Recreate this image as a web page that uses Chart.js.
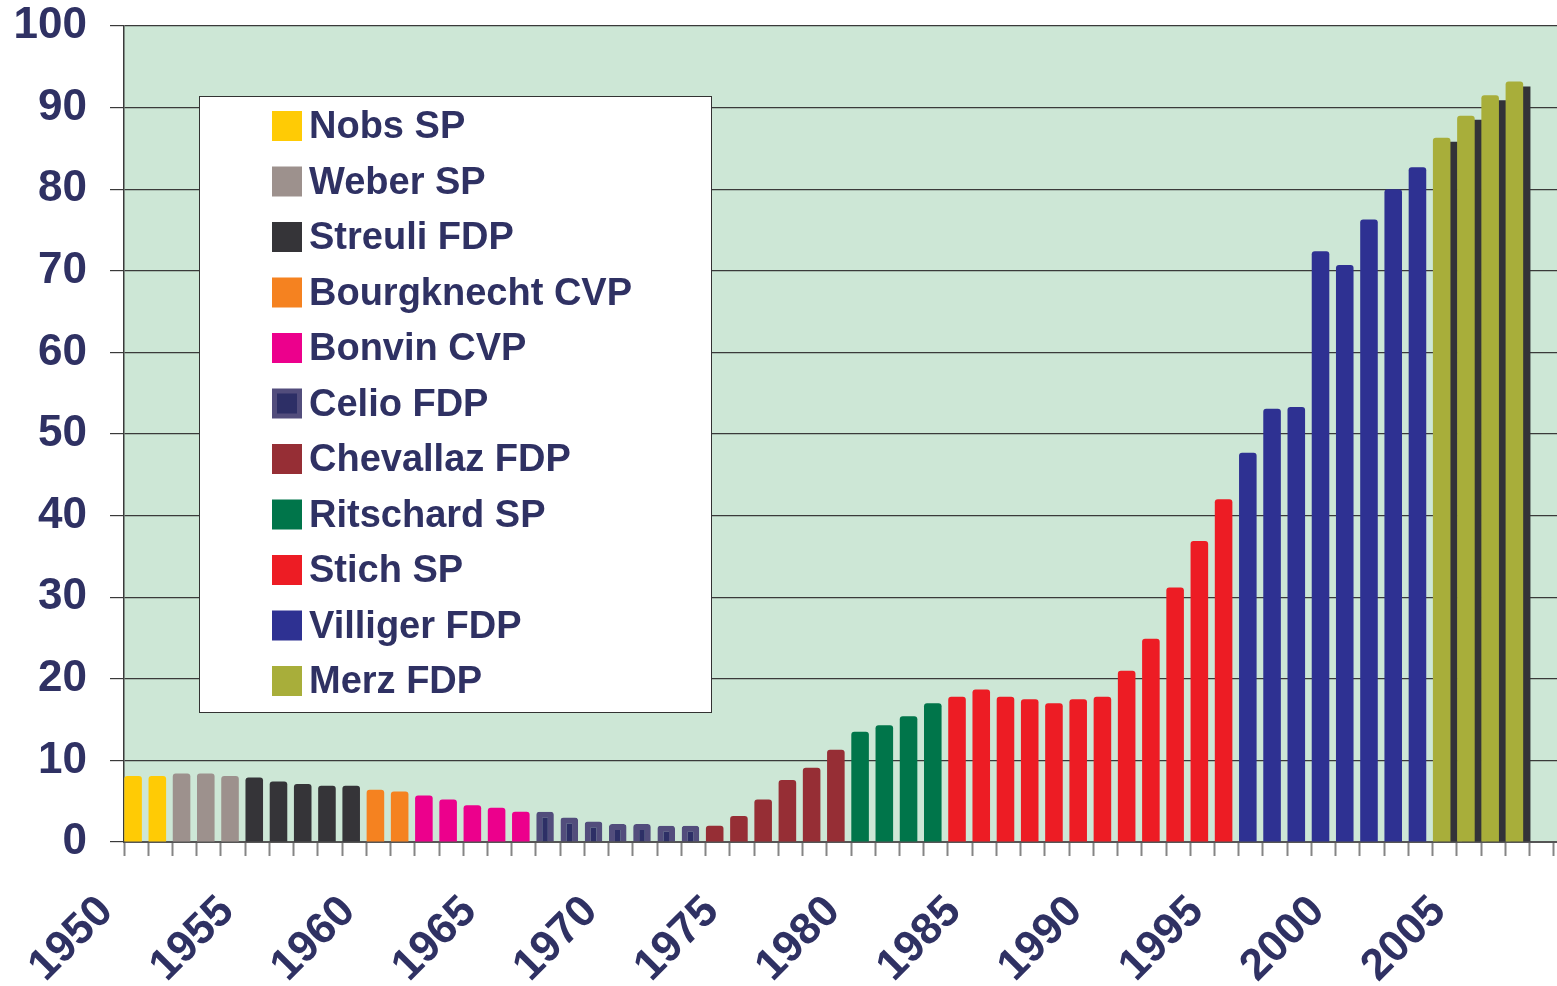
<!DOCTYPE html>
<html>
<head>
<meta charset="utf-8">
<script src="https://cdn.jsdelivr.net/npm/chart.js@4.4.1/dist/chart.umd.min.js"></script>
<style>
  html, body { margin: 0; padding: 0; background: #ffffff; overflow: hidden; }
  #wrap { position: relative; width: 1578px; height: 986px; }
</style>
</head>
<body>
<div id="wrap"><canvas id="debtChart"></canvas></div>
<script>
// categories
var years = ['1950', '1951', '1952', '1953', '1954', '1955', '1956', '1957', '1958', '1959',
             '1960', '1961', '1962', '1963', '1964', '1965', '1966', '1967', '1968', '1969',
             '1970', '1971', '1972', '1973', '1974', '1975', '1976', '1977', '1978', '1979',
             '1980', '1981', '1982', '1983', '1984', '1985', '1986', '1987', '1988', '1989',
             '1990', '1991', '1992', '1993', '1994', '1995', '1996', '1997', '1998', '1999',
             '2000', '2001', '2002', '2003', '2004', '2005', '2006', '2007', '2008', '2009'];

// one bar per year, 1950 - 2007
var debt = [8.1, 8.1, 8.4, 8.4, 8.1, 7.9, 7.4, 7.1, 6.9, 6.9,
            6.4, 6.2, 5.7, 5.2, 4.5, 4.2, 3.7, 3.7, 3.0, 2.5,
            2.2, 2.2, 2.0, 2.0, 2.0, 3.2, 5.2, 7.6, 9.1, 11.3,
            13.5, 14.3, 15.4, 17.0, 17.8, 18.7, 17.8, 17.5, 17.0, 17.5,
            17.8, 21.0, 24.9, 31.2, 36.9, 42.0, 47.7, 53.1, 53.3, 72.4,
            70.7, 76.3, 80.0, 82.7, 86.3, 89.0, 91.5, 93.2];

// who held the office in which years
var ministers = ['Nobs SP', 'Weber SP', 'Streuli FDP', 'Bourgknecht CVP', 'Bonvin CVP', 'Celio FDP',
                 'Chevallaz FDP', 'Ritschard SP', 'Stich SP', 'Villiger FDP', 'Merz FDP'];
var termStart = [1950, 1952, 1955, 1960, 1962, 1967, 1974, 1980, 1984, 1996, 2004];
var termEnd   = [1951, 1954, 1959, 1961, 1966, 1973, 1979, 1983, 1995, 2003, 2007];

// the dark bars behind the last four
var darkYears = [2004, 2005, 2006, 2007];
var darkDebt = [85.8, 88.5, 90.9, 92.6];

// styles
var fills = ['#ffcb05', '#9d918d', '#353438', '#f58220', '#ec008c', '#2d2f66',
             '#962e35', '#00754a', '#ed1c24', '#2e3192', '#a8ae3a'];
var edgeColors = ['#ffcb05', '#9d918d', '#353438', '#f58220', '#ec008c', '#524d7c',
                  '#962e35', '#00754a', '#ed1c24', '#2e3192', '#a8ae3a'];
var edgeWidths = [0, 0, 0, 0, 0, 6, 0, 0, 0, 0, 0];
var navy = '#2f3163';
var fontFamily = "'Liberation Sans', Arial, Helvetica, sans-serif";

var datasets = [];
for (var m = 0; m < ministers.length; m++) {
  var data = [];
  for (var i = 0; i < years.length; i++) {
    var yr = Number(years[i]);
    if (yr >= termStart[m] && yr <= termEnd[m] && i < debt.length) {
      data.push(debt[i]);
    } else {
      data.push(null);
    }
  }
  datasets.push({
    label: ministers[m],
    data: data,
    stack: 'main',
    backgroundColor: fills[m],
    borderColor: edgeColors[m],
    borderWidth: edgeWidths[m],
    barPercentage: 2.9
  });
}

var darkData = [];
for (var j = 0; j < years.length; j++) {
  var k = darkYears.indexOf(Number(years[j]));
  darkData.push(k >= 0 ? darkDebt[k] : null);
}
datasets.push({
  label: '',
  data: darkData,
  stack: 'dark',
  backgroundColor: '#333338',
  borderRadius: 0,
  barPercentage: 3.3,
  inLegend: false
});

var plotBackground = {
  id: 'plotBackground',
  beforeDraw: function(chart) {
    var a = chart.chartArea;
    var ctx = chart.ctx;
    ctx.save();
    ctx.fillStyle = '#cde7d6';
    ctx.fillRect(a.left, a.top, a.right - a.left, a.bottom - a.top);
    ctx.restore();
  }
};

var boxLegend = {
  id: 'boxLegend',
  afterDraw: function(chart) {
    var ctx = chart.ctx;
    ctx.save();
    ctx.fillStyle = '#ffffff';
    ctx.fillRect(199, 96, 512, 616);
    ctx.strokeStyle = '#333333';
    ctx.lineWidth = 1;
    ctx.strokeRect(199.5, 96.5, 512, 616);

    ctx.font = 'bold 38px ' + fontFamily;
    ctx.textBaseline = 'middle';
    ctx.textAlign = 'left';
    var row = 0;
    chart.data.datasets.forEach(function(ds) {
      if (ds.inLegend === false) return;
      var cy = 126 + row * 55.5;
      if (ds.borderWidth > 0) {
        ctx.fillStyle = ds.borderColor;
        ctx.fillRect(272, cy - 15, 30, 30);
        ctx.fillStyle = ds.backgroundColor;
        ctx.fillRect(277, cy - 10, 20, 20);
      } else {
        ctx.fillStyle = ds.backgroundColor;
        ctx.fillRect(272, cy - 15, 30, 30);
      }
      ctx.fillStyle = navy;
      ctx.fillText(ds.label, 309, cy + 2);
      row++;
    });
    ctx.restore();
  }
};

var ctx = document.getElementById('debtChart').getContext('2d');
var debtChart = new Chart(ctx, {
  type: 'bar',
  data: {
    labels: years,
    datasets: datasets
  },
  options: {
    responsive: true,
    maintainAspectRatio: false,
    animation: false,
    layout: { padding: 0 },
    datasets: {
      bar: {
        categoryPercentage: 0.5,
        borderRadius: 3,
        borderSkipped: 'start'
      }
    },
    plugins: {
      legend: { display: false },
      tooltip: { enabled: false }
    },
    scales: {
      x: {
        type: 'category',
        offset: true,
        grid: {
          offset: true,
          drawOnChartArea: false,
          drawTicks: true,
          tickLength: 14,
          tickColor: '#858585',
          tickWidth: 2
        },
        border: { color: '#555555', width: 2 },
        ticks: {
          autoSkip: false,
          minRotation: 45,
          maxRotation: 45,
          labelOffset: -30,
          padding: 30,
          color: navy,
          font: { family: fontFamily, size: 44, weight: 'bold' },
          callback: function(value) {
            var label = this.getLabelForValue(value);
            return Number(label) % 5 === 0 ? label : '';
          }
        },
        afterFit: function(scale) {
          scale.height = 144;
          scale.paddingLeft = 0;
          scale.paddingRight = 0;
        }
      },
      y: {
        min: 0,
        max: 100,
        grid: {
          color: '#3a3a3a',
          lineWidth: 1.2,
          tickLength: 14
        },
        border: { color: '#3a3a3a', width: 1.5 },
        ticks: {
          stepSize: 10,
          padding: 23,
          color: navy,
          font: { family: fontFamily, size: 44, weight: 'bold' }
        },
        afterFit: function(scale) {
          scale.width = 124;
          scale.paddingTop = 26;
          scale.paddingBottom = 0;
        }
      }
    }
  },
  plugins: [plotBackground, boxLegend]
});
</script>
</body>
</html>
